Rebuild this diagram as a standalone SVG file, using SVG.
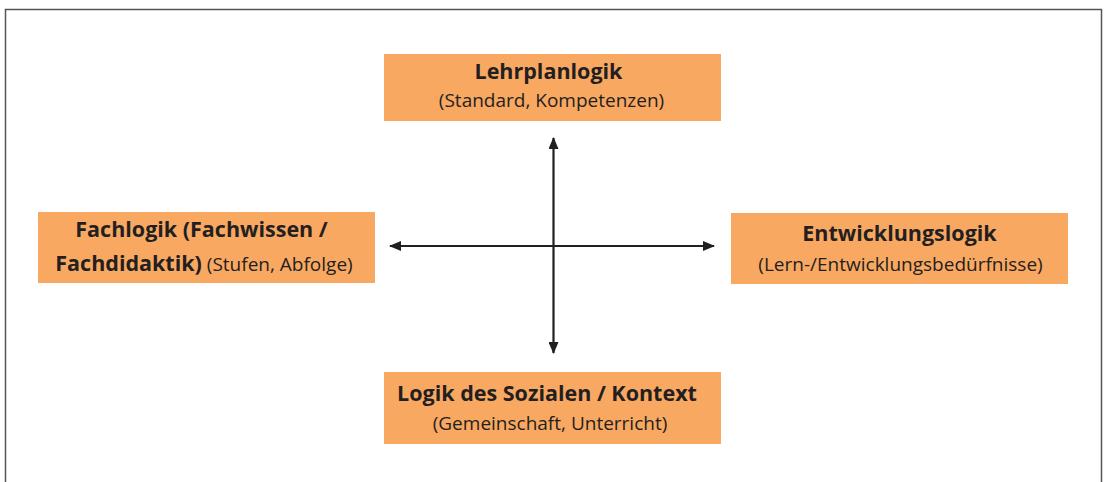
<svg xmlns="http://www.w3.org/2000/svg" width="1105" height="482" viewBox="0 0 1105 482">
<defs>
<style>
.box{fill:#F9A862}
.t{font-family:"Open Sans","Noto Sans","Liberation Sans",sans-serif;fill:#231F20}
.b{font-weight:bold;font-size:21.5px}
.n{font-size:19px}
.ln{stroke:#231F20;stroke-width:2.2;fill:none}
.frame{stroke:#555;stroke-width:1.5;fill:none}
</style>
<marker id="ah" viewBox="0 0 12 10" refX="11" refY="5" markerWidth="12" markerHeight="10" markerUnits="userSpaceOnUse" orient="auto-start-reverse">
<path d="M0,0 L12,5 L0,10 Z" fill="#231F20"/>
</marker>
</defs>
<rect width="1105" height="482" fill="#fff"/>
<path class="frame" d="M5.5,490 V9.5 H1101.5 V490"/>
<g id="connectors">
<line class="ln" x1="553.5" y1="138" x2="553.5" y2="353" marker-start="url(#ah)" marker-end="url(#ah)"/>
<line class="ln" x1="390" y1="246" x2="714" y2="246" marker-start="url(#ah)" marker-end="url(#ah)"/>
</g>
<g id="node-top">
<rect class="box" x="384" y="54" width="337" height="67"/>
<text class="t b" x="548.5" y="79" text-anchor="middle">Lehrplanlogik</text>
<text class="t n" x="551.5" y="107" text-anchor="middle">(Standard, Kompetenzen)</text>
</g>
<g id="node-left">
<rect class="box" x="38" y="212" width="337" height="71"/>
<text class="t b" x="201.5" y="237" text-anchor="middle">Fachlogik (Fachwissen /</text>
<text class="t" x="204" y="271" text-anchor="middle"><tspan class="b">Fachdidaktik)</tspan><tspan class="n"> (Stufen, Abfolge)</tspan></text>
</g>
<g id="node-right">
<rect class="box" x="731" y="213" width="337" height="71"/>
<text class="t b" x="899.5" y="241" text-anchor="middle">Entwicklungslogik</text>
<text class="t n" x="900.5" y="271" text-anchor="middle">(Lern-/Entwicklungsbedürfnisse)</text>
</g>
<g id="node-bottom">
<rect class="box" x="384" y="372" width="337" height="72"/>
<text class="t b" x="547" y="401" text-anchor="middle">Logik des Sozialen / Kontext</text>
<text class="t n" x="550" y="430" text-anchor="middle">(Gemeinschaft, Unterricht)</text>
</g>
</svg>
